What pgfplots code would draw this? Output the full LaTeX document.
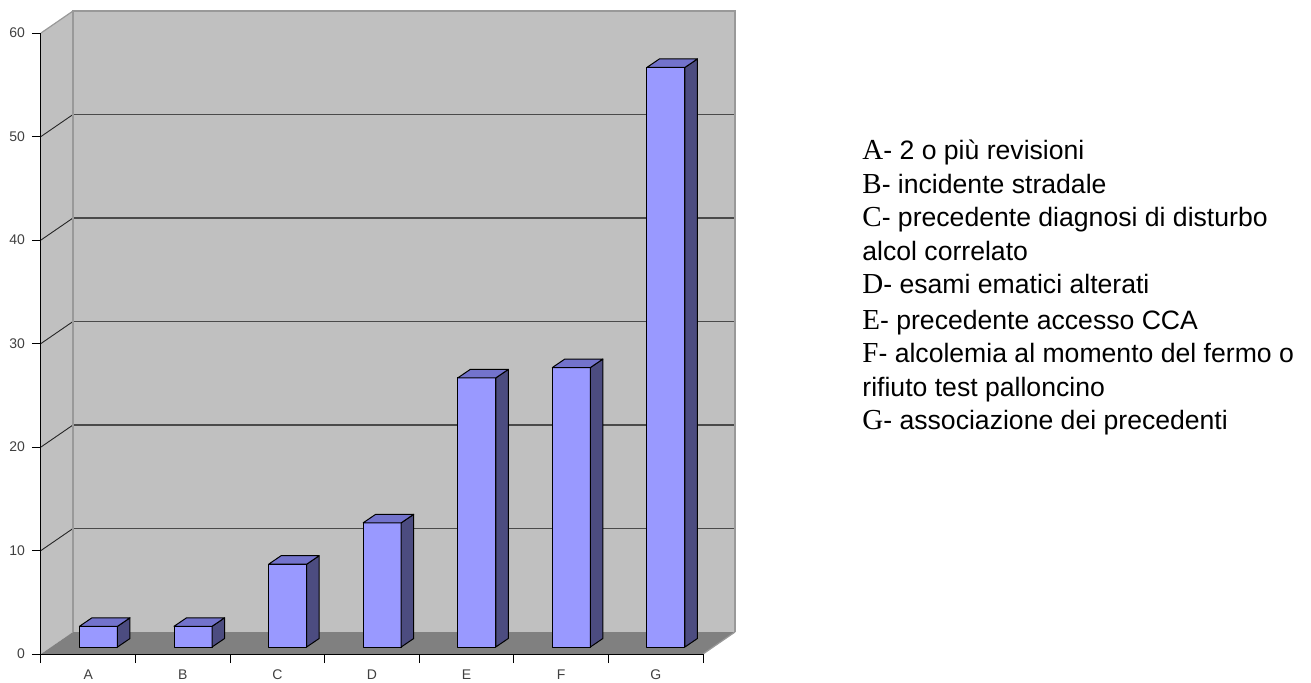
\documentclass[border=0pt]{standalone}
\usepackage{pgfplots}
\usepackage{pgfplotstable}
\pgfplotsset{compat=1.18}
\usepackage{fontspec}
\setmainfont{Liberation Sans}
\newfontfamily\letterfont{Liberation Serif}

\definecolor{wallgray}{HTML}{C0C0C0}
\definecolor{floorgray}{HTML}{808080}
\definecolor{edgegray}{HTML}{999999}
\definecolor{gridgray}{HTML}{4A4A4A}
\definecolor{barfrontc}{HTML}{9999FF}
\definecolor{barsidec}{HTML}{4C4C80}
\definecolor{bartopc}{HTML}{7373CC}
\definecolor{labelgray}{HTML}{404040}

% number of cases per criterion
\pgfplotstableread{
idx cat v
0 A 2
1 B 2
2 C 8
3 D 12
4 E 26
5 F 27
6 G 56
}\bardata

\tikzset{
  barfront/.style={fill=barfrontc, draw=black, line width=0.5pt, line join=round},
  barside/.style={fill=barsidec, draw=black, line width=0.5pt, line join=round},
  bartop/.style={fill=bartopc, draw=black, line width=0.5pt, line join=round},
}

\newcommand{\legline}[3]{%
  \node[anchor=base west, inner sep=0pt, font=\fontsize{13.3}{15}\selectfont] at (410.5pt,#1) {{\fontsize{14.5}{15}\letterfont #2}#3};}
\newcommand{\legcont}[2]{%
  \node[anchor=base west, inner sep=0pt, font=\fontsize{13.3}{15}\selectfont] at (410.5pt,#1) {#2};}

\begin{document}
\begin{tikzpicture}
\begin{axis}[
  scale only axis,
  width=331pt, height=310.5pt,
  xmin=-0.5, xmax=6.5, ymin=0, ymax=60,
  axis lines*=left,
  axis line style={black, line width=0.5pt},
  xtick={-0.5,0.5,...,6.5},
  xticklabels={A,B,C,D,E,F,G},
  x tick label as interval,
  ytick={0,10,...,60},
  tick align=outside,
  major tick length=4.5pt,
  tick style={black, line width=0.5pt},
  ticklabel style={font=\fontsize{7}{8}\selectfont, text=labelgray},
  /pgf/number format/assume math mode=true,
  clip=false,
  axis on top,
]
% side wall, back wall and floor
\fill[wallgray] (axis cs:-0.5,0) -- (axis cs:-0.5,60) -- ++(16pt,11pt)
  -- ([xshift=16pt,yshift=11pt]axis cs:-0.5,0) -- cycle;
\fill[wallgray] ([xshift=16pt,yshift=11pt]axis cs:-0.5,0) rectangle
  ([xshift=16pt,yshift=11pt]axis cs:6.5,60);
\fill[floorgray] (axis cs:-0.5,0) -- (axis cs:6.5,0) -- ++(16pt,11pt)
  -- ([xshift=16pt,yshift=11pt]axis cs:-0.5,0) -- cycle;
% grid lines on the walls
\pgfplotsinvokeforeach{10,20,30,40,50}{
  \draw[line width=0.45pt, black!85] (axis cs:-0.5,#1) -- ++(16pt,11pt);
  \draw[line width=0.8pt, gridgray] ([xshift=16pt,yshift=11pt]axis cs:-0.5,#1)
    -- ([xshift=16pt,yshift=11pt]axis cs:6.5,#1);
}
% wall edges
\draw[edgegray, line width=0.6pt] ([xshift=16pt,yshift=11pt]axis cs:-0.5,0)
  -- ([xshift=16pt,yshift=11pt]axis cs:-0.5,60)
  -- ([xshift=16pt,yshift=11pt]axis cs:6.5,60)
  -- ([xshift=16pt,yshift=11pt]axis cs:6.5,0);
\draw[edgegray, line width=0.6pt] (axis cs:-0.5,60) -- ++(16pt,11pt);
\draw[edgegray, line width=0.6pt] (axis cs:6.5,0) -- ++(16pt,11pt);
% 3D bars
\pgfplotsinvokeforeach{0,...,6}{
  \pgfplotstablegetelem{#1}{v}\of\bardata
  \let\val\pgfplotsretval
  \pgfmathsetmacro\xL{#1-0.201}
  \pgfmathsetmacro\xR{#1+0.201}
  \edef\cuboid{%
    \noexpand\filldraw[barfront] ([xshift=5.1pt,yshift=3.5pt]axis cs:\xL,0)
      rectangle ([xshift=5.1pt,yshift=3.5pt]axis cs:\xR,\val);
    \noexpand\filldraw[barside] ([xshift=5.1pt,yshift=3.5pt]axis cs:\xR,0)
      -- ([xshift=11.35pt,yshift=7.75pt]axis cs:\xR,0)
      -- ([xshift=11.35pt,yshift=7.75pt]axis cs:\xR,\val)
      -- ([xshift=5.1pt,yshift=3.5pt]axis cs:\xR,\val) -- cycle;
    \noexpand\filldraw[bartop] ([xshift=5.1pt,yshift=3.5pt]axis cs:\xL,\val)
      -- ([xshift=5.1pt,yshift=3.5pt]axis cs:\xR,\val)
      -- ([xshift=11.35pt,yshift=7.75pt]axis cs:\xR,\val)
      -- ([xshift=11.35pt,yshift=7.75pt]axis cs:\xL,\val) -- cycle;
  }
  \cuboid
}
\end{axis}

% key to the categories
\legline{247.25pt}{A}{- 2 o più revisioni}
\legline{230.5pt}{B}{- incidente stradale}
\legline{213.75pt}{C}{- precedente diagnosi di disturbo}
\legcont{197pt}{alcol correlato}
\legline{180.25pt}{D}{- esami ematici alterati}
\legline{162.5pt}{E}{- precedente accesso CCA}
\legline{145.75pt}{F}{- alcolemia al momento del fermo o}
\legcont{129pt}{rifiuto test palloncino}
\legline{112.25pt}{G}{- associazione dei precedenti}

\pgfresetboundingbox
\path (-20.5pt,-14pt) rectangle (635pt,327pt);
\end{tikzpicture}
\end{document}
